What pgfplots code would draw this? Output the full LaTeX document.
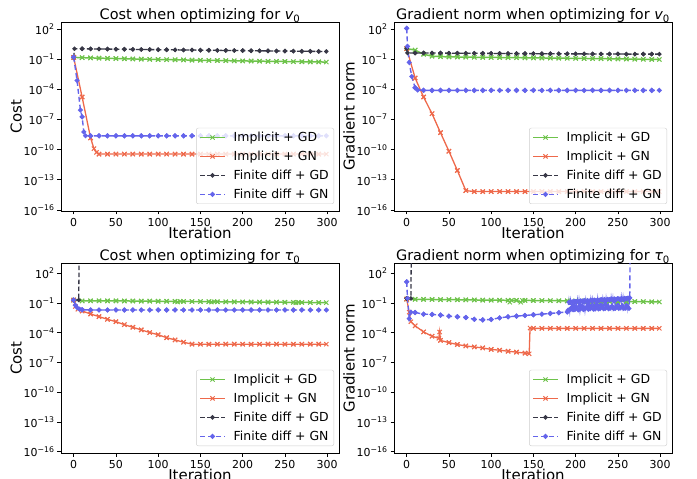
\documentclass[border=0pt]{standalone}
\usepackage{fontspec}
\setmainfont{DejaVu Sans}
\usepackage{pgfplots}
\usepackage{pgfplotstable}
\pgfplotsset{compat=1.18}

\definecolor{cGD}{RGB}{110,195,75}
\definecolor{cGN}{RGB}{238,105,75}
\definecolor{cFD}{RGB}{55,55,70}
\definecolor{cFN}{RGB}{100,100,235}

\newcommand{\ep}[1]{10\raisebox{0.45em}{\fontsize{7.8}{8}\selectfont #1}}

% ---------- cost, v0 ----------
\pgfplotstableread{
x y
0 0.16
10 0.150
20 0.142
30 0.135
40 0.128
50 0.122
60 0.117
70 0.112
80 0.107
90 0.103
100 0.099
110 0.095
120 0.092
130 0.089
140 0.086
150 0.083
160 0.080
170 0.078
180 0.075
190 0.073
200 0.071
210 0.069
220 0.067
230 0.065
240 0.063
250 0.062
260 0.060
270 0.059
280 0.057
290 0.056
299 0.055
}\tlGD
\pgfplotstableread{
x y
0 0.16
10 1.8e-5
20 1.5e-9
24 1.3e-10
27 5.5e-11
30 3.7e-11
40 3.7e-11
50 3.7e-11
60 3.7e-11
70 3.7e-11
80 3.7e-11
90 3.7e-11
100 3.7e-11
110 3.7e-11
120 3.7e-11
130 3.7e-11
140 3.7e-11
150 3.7e-11
160 3.7e-11
170 3.7e-11
180 3.7e-11
190 3.7e-11
200 3.7e-11
210 3.7e-11
220 3.7e-11
230 3.7e-11
240 3.7e-11
250 3.7e-11
260 3.7e-11
270 3.7e-11
280 3.7e-11
290 3.7e-11
299 3.7e-11
}\tlGN
\pgfplotstableread{
x y
0 0.16
1 1.17
10 1.15
20 1.12
30 1.10
40 1.07
50 1.05
60 1.03
70 1.00
80 0.98
90 0.96
100 0.94
110 0.92
120 0.90
130 0.88
140 0.86
150 0.84
160 0.82
170 0.80
180 0.79
190 0.77
200 0.76
210 0.74
220 0.72
230 0.71
240 0.69
250 0.68
260 0.67
270 0.65
280 0.64
290 0.63
299 0.62
}\tlFD
\pgfplotstableread{
x y
0 0.17
4 8e-4
8 9e-7
10 1.9e-7
12 6e-9
14 2.5e-9
20 2.45e-9
30 2.45e-9
40 2.45e-9
50 2.45e-9
60 2.45e-9
70 2.45e-9
80 2.45e-9
90 2.45e-9
100 2.45e-9
110 2.45e-9
120 2.45e-9
130 2.45e-9
140 2.45e-9
150 2.45e-9
160 2.45e-9
170 2.45e-9
180 2.45e-9
190 2.45e-9
200 2.45e-9
210 2.45e-9
220 2.45e-9
230 2.45e-9
240 2.45e-9
250 2.45e-9
260 2.45e-9
270 2.45e-9
280 2.45e-9
290 2.45e-9
299 2.45e-9
}\tlFN

% ---------- gradient norm, v0 ----------
\pgfplotstableread{
x y
0 1.2
10 0.85
20 0.33
30 0.21
40 0.19
50 0.18
60 0.175
70 0.17
80 0.165
90 0.16
100 0.158
110 0.155
120 0.152
130 0.149
140 0.146
150 0.143
160 0.140
170 0.137
180 0.134
190 0.131
200 0.128
210 0.125
220 0.122
230 0.119
240 0.116
250 0.113
260 0.110
270 0.107
280 0.104
290 0.100
299 0.098
}\trGD
\pgfplotstableread{
x y
0 1.2
10 1.4e-3
20 1.8e-5
30 3.9e-7
40 5e-9
50 7.2e-11
60 8.5e-13
70 8.5e-15
80 6.8e-15
90 6.8e-15
100 6.8e-15
110 6.8e-15
120 6.8e-15
130 6.8e-15
140 6.8e-15
150 6.8e-15
160 6.8e-15
170 6.8e-15
180 6.8e-15
190 6.8e-15
200 6.8e-15
210 6.8e-15
220 6.8e-15
230 6.8e-15
240 6.8e-15
250 6.8e-15
260 6.8e-15
270 6.8e-15
280 6.8e-15
290 6.8e-15
299 6.8e-15
}\trGN
\pgfplotstableread{
x y
0 1.2
1 0.45
10 0.44
20 0.44
30 0.43
40 0.43
50 0.42
60 0.42
70 0.41
80 0.41
90 0.40
100 0.40
110 0.39
120 0.39
130 0.38
140 0.38
150 0.38
160 0.37
170 0.37
180 0.37
190 0.36
200 0.36
210 0.36
220 0.35
230 0.35
240 0.35
250 0.35
260 0.34
270 0.34
280 0.34
290 0.34
299 0.34
}\trFD
\pgfplotstableread{
x y
0 126
1 2.0
3 0.05
6 2e-3
10 1.5e-4
13 9e-5
20 8.3e-5
30 8.3e-5
40 8.3e-5
50 8.3e-5
60 8.3e-5
70 8.3e-5
80 8.3e-5
90 8.3e-5
100 8.3e-5
110 8.3e-5
120 8.3e-5
130 8.3e-5
140 8.3e-5
150 8.3e-5
160 8.3e-5
170 8.3e-5
180 8.3e-5
190 8.3e-5
200 8.3e-5
210 8.3e-5
220 8.3e-5
230 8.3e-5
240 8.3e-5
250 8.3e-5
260 8.3e-5
270 8.3e-5
280 8.3e-5
290 8.3e-5
299 8.3e-5
}\trFN

% ---------- cost, tau0 ----------
\pgfplotstableread{
x y
0 0.20
10 0.165
20 0.168
30 0.170
40 0.168
50 0.166
60 0.163
70 0.160
80 0.158
90 0.156
100 0.153
110 0.150
120 0.148
123 0.130
126 0.147
130 0.145
140 0.143
150 0.141
160 0.139
163 0.125
166 0.137
170 0.136
180 0.134
190 0.132
200 0.130
210 0.128
220 0.126
230 0.124
240 0.122
250 0.120
260 0.118
263 0.108
266 0.117
270 0.116
280 0.114
290 0.112
299 0.110
}\blGD
\pgfplotstableread{
x y
0 0.20
2 0.045
5 0.024
10 0.0158
20 7.9e-3
30 4.3e-3
40 2.3e-3
50 1.32e-3
60 6.6e-4
70 3.6e-4
80 1.95e-4
90 1.07e-4
100 6.3e-5
110 3.2e-5
120 1.9e-5
130 1.12e-5
140 7.1e-6
150 7.1e-6
160 7.1e-6
170 7.1e-6
180 7.1e-6
190 7.1e-6
200 7.1e-6
210 7.1e-6
220 7.1e-6
230 7.1e-6
240 7.1e-6
250 7.1e-6
260 7.1e-6
270 7.1e-6
280 7.1e-6
290 7.1e-6
299 7.1e-6
}\blGN
\pgfplotstableread{
x y
0 0.20
6 0.20
7 1e10
}\blFD
\pgfplotstableread{
x y
0 0.20
2 0.06
4 0.035
7 0.024
10 0.021
20 0.020
30 0.020
40 0.020
50 0.020
60 0.020
70 0.020
80 0.020
90 0.020
100 0.020
110 0.020
120 0.020
130 0.020
140 0.020
150 0.020
160 0.020
170 0.020
180 0.020
190 0.020
200 0.020
210 0.020
220 0.020
230 0.020
240 0.020
250 0.020
260 0.020
270 0.020
280 0.020
290 0.020
299 0.020
}\blFN

% ---------- gradient norm, tau0 ----------
\pgfplotstableread{
x y
0 0.25
10 0.24
20 0.235
30 0.23
40 0.225
50 0.22
60 0.215
70 0.21
80 0.205
90 0.20
100 0.197
110 0.194
120 0.19
122 0.12
124 0.188
130 0.186
135 0.12
137 0.184
140 0.183
150 0.18
160 0.177
170 0.174
180 0.17
190 0.167
200 0.164
210 0.16
220 0.157
230 0.154
240 0.15
250 0.147
260 0.144
270 0.14
280 0.137
290 0.134
299 0.13
}\brGD
\pgfplotstableread{
x y
0 0.25
3 0.012
5 1.3e-3
10 5e-4
20 1.23e-4
30 4.5e-5
38 2.8e-5
39 1.2e-4
40 1.7e-5
50 1.02e-5
60 6.5e-6
70 4.7e-6
80 3.7e-6
90 2.95e-6
100 2.1e-6
110 1.74e-6
120 1.38e-6
130 1.12e-6
140 8.9e-7
145 7.6e-7
146 3.0e-4
150 2.8e-4
160 2.8e-4
170 2.8e-4
180 2.8e-4
190 2.8e-4
200 2.8e-4
210 2.8e-4
220 2.8e-4
230 2.8e-4
240 2.8e-4
250 2.8e-4
260 2.8e-4
270 2.8e-4
280 2.8e-4
290 2.8e-4
299 2.8e-4
}\brGN
\pgfplotstableread{
x y
0 0.29
5 0.29
6 1e10
}\brFD
\pgfplotstableread{
x y
0 14
1 0.3
3 2.7e-3
5 0.012
10 0.0112
20 7.6e-3
30 7.1e-3
40 6.0e-3
50 4.8e-3
60 4.1e-3
70 3.5e-3
80 2.3e-3
90 2.0e-3
100 2.2e-3
110 3.2e-3
120 4.1e-3
130 4.8e-3
140 5.6e-3
150 6.6e-3
160 7.6e-3
170 8.9e-3
180 0.0107
190 0.0126
191 0.0191
192 0.126
193 0.0200
194 0.141
195 0.0355
196 0.132
197 0.0209
198 0.151
199 0.0219
200 0.138
201 0.0398
202 0.158
203 0.0200
204 0.145
205 0.0240
206 0.166
207 0.0447
208 0.148
209 0.0219
210 0.174
211 0.0251
212 0.158
213 0.0380
214 0.182
215 0.0229
216 0.162
217 0.0263
218 0.191
219 0.0501
220 0.174
221 0.0240
222 0.200
223 0.0251
224 0.182
225 0.0417
226 0.209
227 0.0251
228 0.191
229 0.0275
230 0.219
231 0.0479
232 0.200
233 0.0263
234 0.229
235 0.0282
236 0.209
237 0.0398
238 0.240
239 0.0263
240 0.219
241 0.0302
242 0.251
243 0.0501
244 0.229
245 0.0275
246 0.263
247 0.0288
248 0.240
249 0.0437
250 0.275
251 0.0282
252 0.251
253 0.0316
254 0.282
255 0.0525
256 0.263
257 0.0288
258 0.302
259 0.0302
260 0.275
261 0.0447
262 0.316
263 0.0288
264 0.331
265 1e10
}\brFN

\pgfplotsset{
  sGD/.style={color=cGD, line width=1.5bp, solid, mark=x, mark size=3bp, mark options={solid, line width=1bp}},
  sGN/.style={color=cGN, line width=1.3bp, solid, mark=x, mark size=3bp, mark options={solid, line width=1bp}},
  sFD/.style={color=cFD, line width=1.3bp, dash pattern=on 4.5bp off 2.5bp, mark=*, mark size=1.5bp, mark options={solid}},
  sFN/.style={color=cFN, line width=1.4bp, dash pattern=on 5bp off 3bp, mark=*, mark size=1.7bp, mark options={solid}},
  tenth/.style={only marks, forget plot, x filter/.expression={mod(x,10)==0 ? x : nan}},
}

\newcommand{\fourplots}[4]{%
  \addplot[sGD, forget plot] table {#1};
  \addplot[sGD, tenth] table {#1};
  \addplot[sGN, forget plot] table {#2};
  \addplot[sGN, tenth] table {#2};
  \addplot[sFD, forget plot] table {#3};
  \addplot[sFD, tenth] table {#3};
  \addplot[sFN, forget plot] table {#4};
  \addplot[sFN, tenth] table {#4};
  \addlegendimage{sGD}\addlegendentry{Implicit + GD}
  \addlegendimage{sGN}\addlegendentry{Implicit + GN}
  \addlegendimage{sFD}\addlegendentry{Finite diff + GD}
  \addlegendimage{sFN}\addlegendentry{Finite diff + GN}
}

\begin{document}
\begin{tikzpicture}
\begin{semilogyaxis}[at={(61bp,268bp)}, anchor=south west,
  scale only axis, width=278bp, height=189bp,
  xmin=-15, xmax=314, ymin=7.9e-17, ymax=537,
  xtick={0,50,...,300},
  ytick={1e-16,1e-13,1e-10,1e-7,1e-4,1e-1,1e2},
  yticklabels={\ep{−16},\ep{−13},\ep{−10},\ep{−7},\ep{−4},\ep{−1},\ep{2}},
  yminorticks=false, tick align=outside, tick pos=left,
  major tick length=3.5bp, tick style={black, line width=0.8bp},
  axis line style={black, line width=0.8bp},
  /pgf/number format/assume math mode=true,
  tick label style={font=\fontsize{11}{13}\selectfont},
  label style={font=\fontsize{15}{17}\selectfont},
  xlabel style={yshift=6bp}, ylabel shift=-5bp,
  title style={font=\fontsize{14.5}{16}\selectfont, yshift=-9pt, inner sep=2bp},
  legend cell align=left,
  legend image code/.code={\draw[line width=1.4bp, mark repeat=2,mark phase=2] plot coordinates {(0bp,0bp) (12.5bp,0bp) (25bp,0bp)};},
  legend style={at={(1,0)}, anchor=south east, xshift=-5bp, yshift=7bp,
    fill=white, fill opacity=0.8, text opacity=1, draw=black!20,
    rounded corners=2bp, font=\fontsize{12.5}{15}\selectfont,
    row sep=4bp, column sep=6bp, inner xsep=3bp, inner ysep=2bp},
  title={Cost when optimizing for {\itshape v}\textsubscript{0}},
  xlabel={Iteration}, ylabel={Cost}]
\fourplots{\tlGD}{\tlGN}{\tlFD}{\tlFN}
\end{semilogyaxis}
\begin{semilogyaxis}[at={(394bp,268bp)}, anchor=south west,
  scale only axis, width=278bp, height=189bp,
  xmin=-15, xmax=314, ymin=7.9e-17, ymax=537,
  xtick={0,50,...,300},
  ytick={1e-16,1e-13,1e-10,1e-7,1e-4,1e-1,1e2},
  yticklabels={\ep{−16},\ep{−13},\ep{−10},\ep{−7},\ep{−4},\ep{−1},\ep{2}},
  yminorticks=false, tick align=outside, tick pos=left,
  major tick length=3.5bp, tick style={black, line width=0.8bp},
  axis line style={black, line width=0.8bp},
  /pgf/number format/assume math mode=true,
  tick label style={font=\fontsize{11}{13}\selectfont},
  label style={font=\fontsize{15}{17}\selectfont},
  xlabel style={yshift=6bp}, ylabel shift=-5bp,
  title style={font=\fontsize{14.5}{16}\selectfont, yshift=-9pt, inner sep=2bp},
  legend cell align=left,
  legend image code/.code={\draw[line width=1.4bp, mark repeat=2,mark phase=2] plot coordinates {(0bp,0bp) (12.5bp,0bp) (25bp,0bp)};},
  legend style={at={(1,0)}, anchor=south east, xshift=-5bp, yshift=7bp,
    fill=white, fill opacity=0.8, text opacity=1, draw=black!20,
    rounded corners=2bp, font=\fontsize{12.5}{15}\selectfont,
    row sep=4bp, column sep=6bp, inner xsep=3bp, inner ysep=2bp},
  title={Gradient norm when optimizing for {\itshape v}\textsubscript{0}},
  xlabel={Iteration}, ylabel={Gradient norm}]
\fourplots{\trGD}{\trGN}{\trFD}{\trFN}
\end{semilogyaxis}
\begin{semilogyaxis}[at={(61bp,26bp)}, anchor=south west,
  scale only axis, width=278bp, height=190bp,
  xmin=-15, xmax=314, ymin=7.4e-17, ymax=1.1e3,
  xtick={0,50,...,300},
  ytick={1e-16,1e-13,1e-10,1e-7,1e-4,1e-1,1e2},
  yticklabels={\ep{−16},\ep{−13},\ep{−10},\ep{−7},\ep{−4},\ep{−1},\ep{2}},
  yminorticks=false, tick align=outside, tick pos=left,
  major tick length=3.5bp, tick style={black, line width=0.8bp},
  axis line style={black, line width=0.8bp},
  /pgf/number format/assume math mode=true,
  tick label style={font=\fontsize{11}{13}\selectfont},
  label style={font=\fontsize{15}{17}\selectfont},
  xlabel style={yshift=6bp}, ylabel shift=-5bp,
  title style={font=\fontsize{14.5}{16}\selectfont, yshift=-9pt, inner sep=2bp},
  legend cell align=left,
  legend image code/.code={\draw[line width=1.4bp, mark repeat=2,mark phase=2] plot coordinates {(0bp,0bp) (12.5bp,0bp) (25bp,0bp)};},
  legend style={at={(1,0)}, anchor=south east, xshift=-5bp, yshift=7bp,
    fill=white, fill opacity=0.8, text opacity=1, draw=black!20,
    rounded corners=2bp, font=\fontsize{12.5}{15}\selectfont,
    row sep=4bp, column sep=6bp, inner xsep=3bp, inner ysep=2bp},
  title={Cost when optimizing for {\itshape τ}\textsubscript{0}},
  xlabel={Iteration}, ylabel={Cost}]
\fourplots{\blGD}{\blGN}{\blFD}{\blFN}
\end{semilogyaxis}
\begin{semilogyaxis}[at={(394bp,26bp)}, anchor=south west,
  scale only axis, width=278bp, height=190bp,
  xmin=-15, xmax=314, ymin=7.4e-17, ymax=1.1e3,
  xtick={0,50,...,300},
  ytick={1e-16,1e-13,1e-10,1e-7,1e-4,1e-1,1e2},
  yticklabels={\ep{−16},\ep{−13},\ep{−10},\ep{−7},\ep{−4},\ep{−1},\ep{2}},
  yminorticks=false, tick align=outside, tick pos=left,
  major tick length=3.5bp, tick style={black, line width=0.8bp},
  axis line style={black, line width=0.8bp},
  /pgf/number format/assume math mode=true,
  tick label style={font=\fontsize{11}{13}\selectfont},
  label style={font=\fontsize{15}{17}\selectfont},
  xlabel style={yshift=6bp}, ylabel shift=-5bp,
  title style={font=\fontsize{14.5}{16}\selectfont, yshift=-9pt, inner sep=2bp},
  legend cell align=left,
  legend image code/.code={\draw[line width=1.4bp, mark repeat=2,mark phase=2] plot coordinates {(0bp,0bp) (12.5bp,0bp) (25bp,0bp)};},
  legend style={at={(1,0)}, anchor=south east, xshift=-5bp, yshift=7bp,
    fill=white, fill opacity=0.8, text opacity=1, draw=black!20,
    rounded corners=2bp, font=\fontsize{12.5}{15}\selectfont,
    row sep=4bp, column sep=6bp, inner xsep=3bp, inner ysep=2bp},
  title={Gradient norm when optimizing for {\itshape τ}\textsubscript{0}},
  xlabel={Iteration}, ylabel={Gradient norm}]
\fourplots{\brGD}{\brGN}{\brFD}{\brFN}
\end{semilogyaxis}
\pgfresetboundingbox
\useasboundingbox (0bp,0bp) rectangle (697bp,479bp);
\end{tikzpicture}
\end{document}
